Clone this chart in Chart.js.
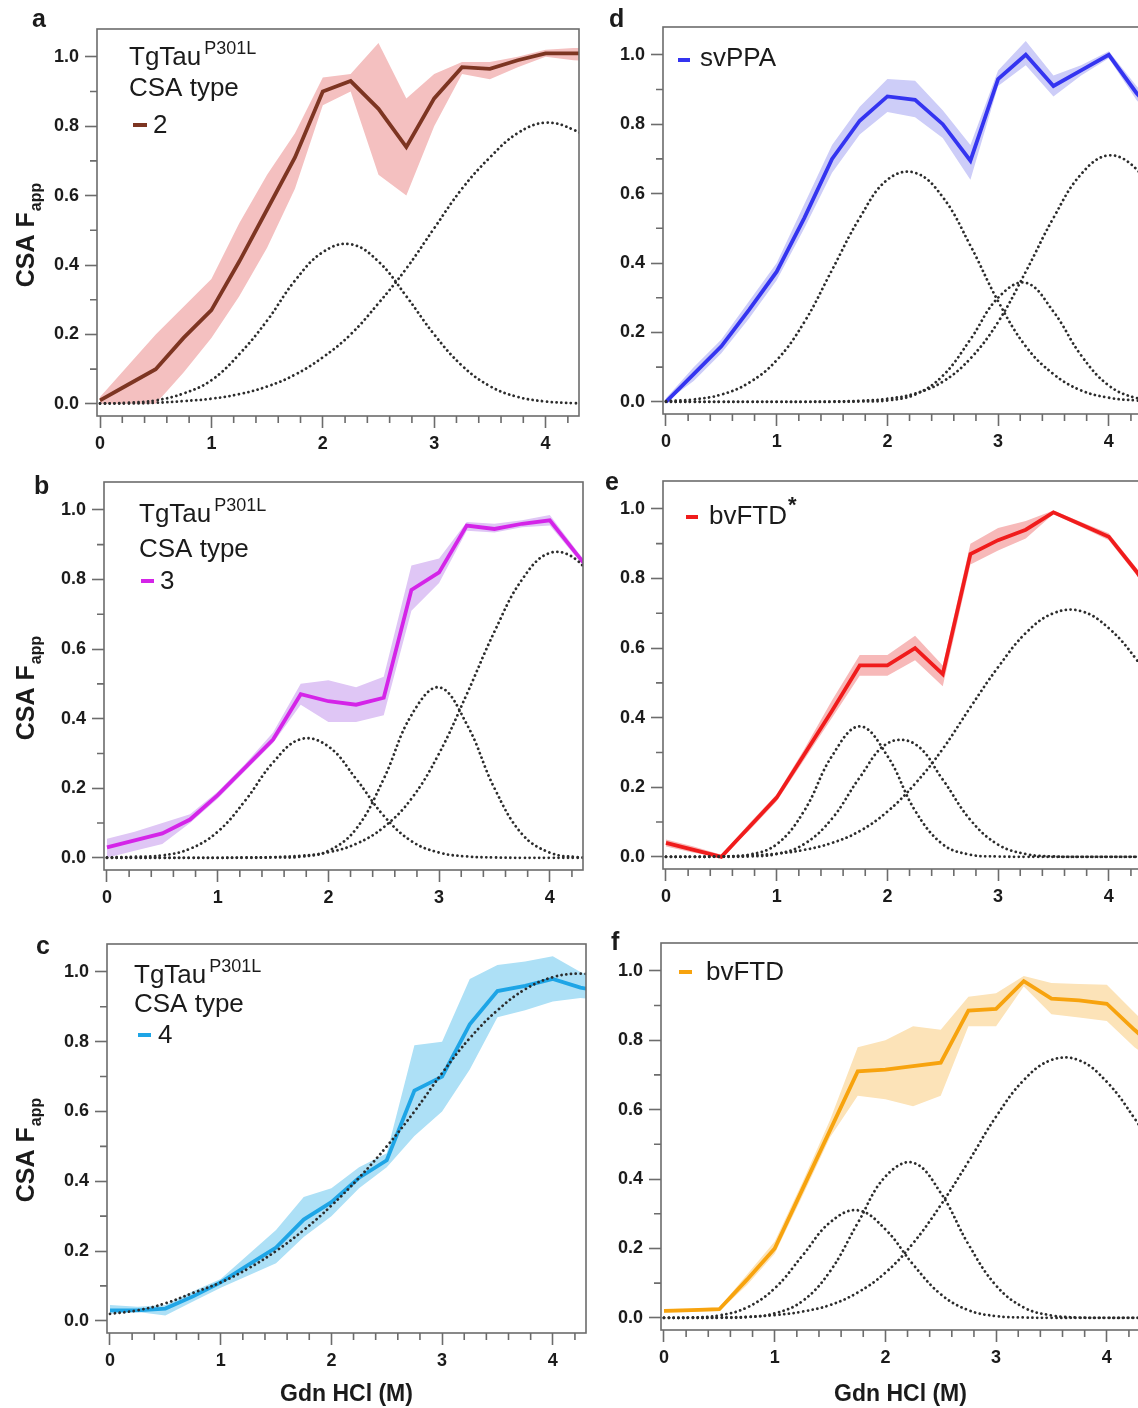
<!DOCTYPE html>
<html>
<head>
<meta charset="utf-8">
<script src="https://cdn.jsdelivr.net/npm/chart.js@4.4.1/dist/chart.umd.min.js"></script>
<style>
  html, body { margin: 0; padding: 0; background: #fff; }
  body { width: 1138px; height: 1408px; position: relative; overflow: hidden; }
  canvas { position: absolute; }
</style>
</head>
<body>
<canvas id="pa" width="600" height="462" style="left:0px;top:0px"></canvas>
<canvas id="pb" width="600" height="462" style="left:0px;top:462px"></canvas>
<canvas id="pc" width="600" height="484" style="left:0px;top:924px"></canvas>
<canvas id="pd" width="560" height="462" style="left:590px;top:0px"></canvas>
<canvas id="pe" width="560" height="462" style="left:590px;top:462px"></canvas>
<canvas id="pf" width="560" height="484" style="left:590px;top:924px"></canvas>
<script>
// Gdn HCl concentration (M)
const conc = [0, 0.25, 0.5, 0.75, 1, 1.25, 1.5, 1.75, 2, 2.25, 2.5, 2.75, 3, 3.25, 3.5, 3.75, 4, 4.25, 4.5];
const xMinor = [0.2, 0.4, 0.6, 0.8, 1.2, 1.4, 1.6, 1.8, 2.2, 2.4, 2.6, 2.8, 3.2, 3.4, 3.6, 3.8, 4.2];
const yMinor = [0.1, 0.3, 0.5, 0.7, 0.9];

// a - TgTau P301L, CSA type 2
const meanA  = [0.01, 0.055, 0.10, 0.19, 0.27, 0.41, 0.56, 0.71, 0.90, 0.93, 0.85, 0.74, 0.88, 0.97, 0.965, 0.99, 1.01, 1.01, 1.01];
const upperA = [0.02, 0.11, 0.20, 0.28, 0.36, 0.52, 0.66, 0.78, 0.94, 0.95, 1.04, 0.88, 0.95, 0.985, 0.985, 1.0, 1.02, 1.025, 1.025];
const lowerA = [0.0, 0.0, 0.0, 0.09, 0.19, 0.31, 0.45, 0.62, 0.86, 0.90, 0.66, 0.60, 0.80, 0.95, 0.935, 0.97, 1.0, 0.99, 0.985];
const fitA1  = [0.001, 0.003, 0.01, 0.03, 0.068, 0.143, 0.24, 0.355, 0.437, 0.46, 0.41, 0.31, 0.20, 0.11, 0.051, 0.02, 0.007, 0.002, 0.001];
const fitA2  = [0.001, 0.001, 0.003, 0.008, 0.015, 0.028, 0.05, 0.084, 0.134, 0.20, 0.29, 0.39, 0.506, 0.62, 0.71, 0.78, 0.81, 0.79, 0.74];

// b - TgTau P301L, CSA type 3
const meanB  = [0.03, 0.05, 0.07, 0.11, 0.18, 0.26, 0.34, 0.47, 0.45, 0.44, 0.46, 0.77, 0.82, 0.955, 0.945, 0.96, 0.97, 0.87, 0.77];
const upperB = [0.055, 0.075, 0.10, 0.125, 0.19, 0.27, 0.36, 0.50, 0.51, 0.49, 0.52, 0.84, 0.86, 0.965, 0.96, 0.97, 0.985, 0.88, 0.78];
const lowerB = [0.0, 0.02, 0.04, 0.10, 0.17, 0.25, 0.33, 0.44, 0.39, 0.39, 0.41, 0.71, 0.79, 0.94, 0.935, 0.95, 0.955, 0.86, 0.76];
const fitB1  = [0.001, 0.003, 0.007, 0.026, 0.075, 0.165, 0.274, 0.341, 0.32, 0.227, 0.121, 0.048, 0.015, 0.004, 0.001, 0, 0, 0, 0];
const fitB2  = [0, 0, 0, 0, 0, 0, 0.001, 0.003, 0.02, 0.083, 0.227, 0.41, 0.49, 0.384, 0.20, 0.068, 0.015, 0.002, 0];
const fitB3  = [0, 0, 0, 0, 0, 0.001, 0.002, 0.006, 0.016, 0.04, 0.088, 0.17, 0.30, 0.47, 0.65, 0.80, 0.876, 0.854, 0.74];

// c - TgTau P301L, CSA type 4
const meanC  = [0.03, 0.03, 0.035, 0.07, 0.11, 0.16, 0.21, 0.29, 0.34, 0.41, 0.46, 0.66, 0.70, 0.85, 0.945, 0.96, 0.98, 0.955, 0.94];
const upperC = [0.045, 0.04, 0.045, 0.085, 0.12, 0.19, 0.26, 0.355, 0.38, 0.44, 0.48, 0.79, 0.80, 0.98, 1.02, 1.03, 1.045, 1.0, 0.97];
const lowerC = [0.02, 0.025, 0.015, 0.055, 0.095, 0.13, 0.165, 0.24, 0.30, 0.38, 0.44, 0.53, 0.60, 0.72, 0.87, 0.89, 0.915, 0.925, 0.92];
const fitC1  = [0.02, 0.03, 0.05, 0.08, 0.11, 0.15, 0.20, 0.26, 0.33, 0.41, 0.50, 0.60, 0.71, 0.81, 0.89, 0.95, 0.985, 0.995, 0.985];

// d - svPPA
const meanD  = [0.0, 0.08, 0.16, 0.265, 0.375, 0.53, 0.70, 0.81, 0.88, 0.87, 0.80, 0.695, 0.93, 1.0, 0.91, 0.955, 1.0, 0.89, 0.80];
const upperD = [0.01, 0.10, 0.18, 0.29, 0.40, 0.57, 0.74, 0.85, 0.93, 0.925, 0.84, 0.74, 0.955, 1.04, 0.94, 0.97, 1.01, 0.91, 0.82];
const lowerD = [0.0, 0.06, 0.14, 0.24, 0.35, 0.50, 0.66, 0.77, 0.835, 0.82, 0.76, 0.64, 0.91, 0.97, 0.88, 0.94, 0.99, 0.87, 0.78];
const fitD1  = [0.002, 0.007, 0.021, 0.055, 0.12, 0.23, 0.38, 0.53, 0.64, 0.66, 0.59, 0.45, 0.29, 0.16, 0.08, 0.033, 0.012, 0.004, 0.001];
const fitD2  = [0, 0, 0, 0, 0, 0, 0, 0.001, 0.004, 0.021, 0.075, 0.18, 0.30, 0.343, 0.26, 0.134, 0.047, 0.011, 0.002];
const fitD3  = [0, 0, 0, 0, 0, 0, 0.001, 0.003, 0.009, 0.024, 0.058, 0.125, 0.23, 0.375, 0.53, 0.656, 0.71, 0.67, 0.55];

// e - bvFTD*
const meanE  = [0.04, 0.02, 0.0, 0.085, 0.17, 0.295, 0.42, 0.55, 0.55, 0.60, 0.525, 0.87, 0.91, 0.94, 0.99, 0.955, 0.92, 0.82, 0.70];
const upperE = [0.05, 0.03, 0.006, 0.095, 0.18, 0.31, 0.45, 0.58, 0.58, 0.635, 0.55, 0.90, 0.945, 0.965, 0.995, 0.962, 0.93, 0.83, 0.71];
const lowerE = [0.03, 0.012, 0.0, 0.075, 0.16, 0.28, 0.40, 0.52, 0.52, 0.565, 0.49, 0.84, 0.88, 0.915, 0.985, 0.948, 0.91, 0.81, 0.69];
const fitE1  = [0, 0, 0.001, 0.006, 0.036, 0.133, 0.29, 0.375, 0.29, 0.133, 0.036, 0.006, 0.001, 0, 0, 0, 0, 0, 0];
const fitE2  = [0, 0, 0, 0.001, 0.008, 0.037, 0.11, 0.228, 0.326, 0.324, 0.222, 0.106, 0.035, 0.008, 0.001, 0, 0, 0, 0];
const fitE3  = [0, 0, 0.001, 0.004, 0.009, 0.02, 0.04, 0.074, 0.13, 0.21, 0.31, 0.43, 0.545, 0.643, 0.70, 0.706, 0.657, 0.567, 0.45];

// f - bvFTD
const meanF  = [0.02, 0.022, 0.025, 0.11, 0.20, 0.37, 0.54, 0.71, 0.715, 0.725, 0.735, 0.885, 0.89, 0.97, 0.92, 0.915, 0.905, 0.83, 0.76];
const upperF = [0.025, 0.027, 0.03, 0.125, 0.22, 0.39, 0.57, 0.78, 0.80, 0.84, 0.83, 0.925, 0.935, 0.985, 0.965, 0.962, 0.96, 0.88, 0.80];
const lowerF = [0.015, 0.017, 0.02, 0.095, 0.185, 0.35, 0.52, 0.64, 0.63, 0.61, 0.64, 0.84, 0.84, 0.955, 0.875, 0.865, 0.855, 0.78, 0.72];
const fitF1  = [0, 0.001, 0.007, 0.03, 0.085, 0.179, 0.275, 0.31, 0.255, 0.154, 0.068, 0.022, 0.005, 0.001, 0, 0, 0, 0, 0];
const fitF2  = [0, 0, 0, 0.002, 0.013, 0.048, 0.134, 0.273, 0.407, 0.447, 0.36, 0.212, 0.093, 0.03, 0.007, 0.001, 0, 0, 0];
const fitF3  = [0, 0, 0.001, 0.003, 0.008, 0.018, 0.037, 0.073, 0.13, 0.215, 0.325, 0.45, 0.58, 0.685, 0.743, 0.742, 0.68, 0.575, 0.45];

const FONT = '"Liberation Sans", Arial, Helvetica, sans-serif';
const INK = '#1b1b1b';
const AXIS = '#6c6c6c';

function pts(ys) {
  return ys.map((y, i) => ({x: conc[i], y: y}));
}

// box round the plot area + the short minor ticks
const framePlugin = {
  id: 'frame',
  afterDatasetsDraw(chart) {
    const {ctx, chartArea: a, scales} = chart;
    ctx.save();
    ctx.strokeStyle = AXIS;
    ctx.lineWidth = 1.6;
    ctx.strokeRect(a.left, a.top, a.right - a.left, a.bottom - a.top);
    ctx.beginPath();
    xMinor.forEach(v => {
      const px = scales.x.getPixelForValue(v);
      if (px < a.right) { ctx.moveTo(px, a.bottom); ctx.lineTo(px, a.bottom + 7); }
    });
    yMinor.forEach(v => {
      const py = scales.y.getPixelForValue(v);
      ctx.moveTo(a.left - 7, py); ctx.lineTo(a.left, py);
    });
    ctx.stroke();
    ctx.restore();
  }
};

// panel letter, legend block and y title
const textPlugin = {
  id: 'panelText',
  afterDraw(chart, args, o) {
    const ctx = chart.ctx;
    ctx.save();
    ctx.translate(-o.ox, -o.oy);
    ctx.fillStyle = INK;
    ctx.textAlign = 'left';
    ctx.textBaseline = 'alphabetic';

    ctx.font = 'bold 25px ' + FONT;
    ctx.fillText(o.letter[0], o.letter[1], o.letter[2]);

    const lg = o.legend;
    ctx.fillStyle = o.color;
    ctx.fillRect(lg.mx, lg.my - 2, lg.mw, 4);
    ctx.fillStyle = INK;
    ctx.font = '26px ' + FONT;
    if (lg.tg) {
      ctx.fillText('TgTau', lg.x, lg.y1);
      const w = ctx.measureText('TgTau').width;
      ctx.font = '18px ' + FONT;
      ctx.fillText('P301L', lg.x + w + 3, lg.y1 - 11);
      ctx.font = '26px ' + FONT;
      ctx.fillText('CSA type', lg.x, lg.y2);
    }
    ctx.fillText(lg.text, lg.tx, lg.ty);
    if (lg.star) {
      const w = ctx.measureText(lg.text).width;
      ctx.font = 'bold 22px ' + FONT;
      ctx.fillText('*', lg.tx + w + 1, lg.ty - 12);
    }

    if (o.yTitle) {
      ctx.save();
      ctx.translate(o.yTitle[0], o.yTitle[1]);
      ctx.rotate(-Math.PI / 2);
      ctx.font = 'bold 25px ' + FONT;
      const w1 = ctx.measureText('CSA F').width;
      ctx.font = 'bold 16px ' + FONT;
      const w2 = ctx.measureText('app').width;
      const x0 = -(w1 + w2 + 1) / 2;
      ctx.font = 'bold 25px ' + FONT;
      ctx.fillText('CSA F', x0, 0);
      ctx.font = 'bold 16px ' + FONT;
      ctx.fillText('app', x0 + w1 + 1, 7);
      ctx.restore();
    }
    ctx.restore();
  }
};

function makePanel(p) {
  const el = document.getElementById(p.id);
  const cw = el.width, ch = el.height;
  const L = p.area[0] - p.ox, R = p.area[1] - p.ox, T = p.area[2] - p.oy, B = p.area[3] - p.oy;
  const yW = 60;
  const xH = ch - B;

  const datasets = [];
  p.fits.forEach(f => datasets.push({
    data: pts(f), borderColor: '#2c2c2c', borderWidth: 2.8,
    borderDash: [0.01, 4.8], borderCapStyle: 'round', tension: 0.4,
    pointRadius: 0, fill: false
  }));
  datasets.push({
    data: pts(p.mean), borderColor: p.color, borderWidth: 3.8,
    borderJoinStyle: 'miter', tension: 0, pointRadius: 0, fill: false
  });
  datasets.push({
    data: pts(p.upper), borderColor: 'rgba(0,0,0,0)', borderWidth: 0,
    backgroundColor: p.band, pointRadius: 0, tension: 0, fill: '+1'
  });
  datasets.push({
    data: pts(p.lower), borderColor: 'rgba(0,0,0,0)', borderWidth: 0,
    pointRadius: 0, tension: 0, fill: false
  });

  new Chart(el, {
    type: 'line',
    data: {datasets: datasets},
    plugins: [framePlugin, textPlugin],
    options: {
      responsive: false,
      animation: false,
      events: [],
      layout: {padding: {left: L - yW, right: cw - R, top: T, bottom: 0}},
      plugins: {
        legend: {display: false},
        tooltip: {enabled: false},
        panelText: {ox: p.ox, oy: p.oy, letter: p.letter, legend: p.legend, color: p.color, yTitle: p.yTitle}
      },
      scales: {
        x: {
          type: 'linear', min: -0.027, max: 4.3,
          afterFit: s => { s.height = xH; },
          border: {display: false},
          grid: {drawOnChartArea: false, drawTicks: true, tickLength: 12, tickColor: AXIS, tickWidth: 1.6},
          ticks: {
            stepSize: 1, includeBounds: false, autoSkip: false, maxRotation: 0, padding: 5,
            color: INK, font: {family: FONT, size: 18, weight: 'bold'},
            callback: v => Math.abs(v - Math.round(v)) < 1e-6 ? String(Math.round(v)) : ''
          },
          title: {
            display: p.xTitle, text: 'Gdn HCl (M)', color: INK, padding: 0,
            font: {family: FONT, size: 23, weight: 'bold'}
          }
        },
        y: {
          type: 'linear', min: -0.035, max: 1.08,
          afterFit: s => { s.width = yW; },
          border: {display: false},
          grid: {drawOnChartArea: false, drawTicks: true, tickLength: 12, tickColor: AXIS, tickWidth: 1.6},
          ticks: {
            stepSize: 0.2, includeBounds: false, autoSkip: false, padding: 6,
            color: INK, font: {family: FONT, size: 18, weight: 'bold'},
            callback: v => v.toFixed(1)
          }
        }
      }
    }
  });
}

makePanel({
  id: 'pa', ox: 0, oy: 0, area: [97, 579, 29, 416],
  mean: meanA, upper: upperA, lower: lowerA, fits: [fitA1, fitA2],
  color: '#7d3522', band: '#f4c0c0',
  letter: ['a', 32, 27], yTitle: [34, 235], xTitle: false,
  legend: {tg: true, x: 129, y1: 65, y2: 96, mx: 133, mw: 14, my: 125, text: '2', tx: 153, ty: 133}
});
makePanel({
  id: 'pb', ox: 0, oy: 462, area: [104, 583, 482, 870],
  mean: meanB, upper: upperB, lower: lowerB, fits: [fitB1, fitB2, fitB3],
  color: '#d424e8', band: '#dfc6f5',
  letter: ['b', 34, 494], yTitle: [34, 688], xTitle: false,
  legend: {tg: true, x: 139, y1: 522, y2: 557, mx: 141, mw: 13, my: 581, text: '3', tx: 160, ty: 589}
});
makePanel({
  id: 'pc', ox: 0, oy: 924, area: [107, 586, 944, 1333],
  mean: meanC, upper: upperC, lower: lowerC, fits: [fitC1],
  color: '#1ea5e6', band: '#ade0f6',
  letter: ['c', 36, 954], yTitle: [34, 1150], xTitle: true,
  legend: {tg: true, x: 134, y1: 983, y2: 1012, mx: 138, mw: 13, my: 1035, text: '4', tx: 158, ty: 1043}
});
makePanel({
  id: 'pd', ox: 590, oy: 0, area: [663, 1142, 27, 414],
  mean: meanD, upper: upperD, lower: lowerD, fits: [fitD1, fitD2, fitD3],
  color: '#3434f0', band: '#cdcdf8',
  letter: ['d', 609, 27], yTitle: null, xTitle: false,
  legend: {tg: false, mx: 678, mw: 12, my: 60, text: 'svPPA', tx: 700, ty: 66}
});
makePanel({
  id: 'pe', ox: 590, oy: 462, area: [663, 1142, 481, 869],
  mean: meanE, upper: upperE, lower: lowerE, fits: [fitE1, fitE2, fitE3],
  color: '#f01c1c', band: '#f7b9b9',
  letter: ['e', 605, 490], yTitle: null, xTitle: false,
  legend: {tg: false, mx: 686, mw: 12, my: 517, text: 'bvFTD', tx: 709, ty: 524, star: true}
});
makePanel({
  id: 'pf', ox: 590, oy: 924, area: [661, 1140, 943, 1330],
  mean: meanF, upper: upperF, lower: lowerF, fits: [fitF1, fitF2, fitF3],
  color: '#f7a30e', band: '#fce3b8',
  letter: ['f', 611, 950], yTitle: null, xTitle: true,
  legend: {tg: false, mx: 679, mw: 13, my: 972, text: 'bvFTD', tx: 706, ty: 980}
});
</script>
</body>
</html>
